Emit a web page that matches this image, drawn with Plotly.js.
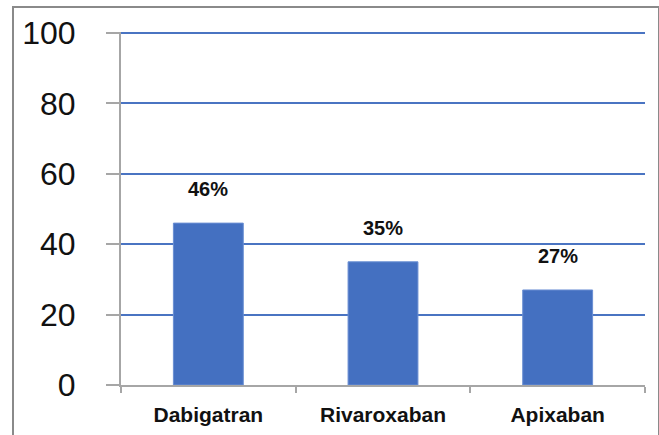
<!DOCTYPE html>
<html>
<head>
<meta charset="utf-8">
<script src="https://cdn.plot.ly/plotly-3.0.1.min.js"></script>
<style>
  html, body { margin: 0; padding: 0; background: #fff; }
  #wrap { position: relative; width: 659px; height: 435px; overflow: hidden; }
  #chart { position: absolute; left: 0; top: 0; width: 659px; height: 435px; }
  #frame { position: absolute; left: 12px; top: 6px; width: 644px; height: 440px;
           border: 2px solid #8a8a8a; pointer-events: none; }
</style>
</head>
<body>
<div id="wrap">
  <div id="chart"></div>
  <div id="frame"></div>
</div>
<script>
const categories = ["Dabigatran", "Rivaroxaban", "Apixaban"];
const values = [46, 35, 27];
const valueLabels = ["46%", "35%", "27%"];
const yTickValues = [0, 20, 40, 60, 80, 100];

const trace = {
  type: "bar",
  x: categories,
  y: values,
  marker: { color: "#4470c1", line: { color: "#6a8fd3", width: 1 } },
  hoverinfo: "none"
};

const annotations = categories.map((c, i) => ({
  x: c, y: values[i], xref: "x", yref: "y",
  text: "<b>" + valueLabels[i] + "</b>",
  showarrow: false, yanchor: "bottom", yshift: 21,
  font: { family: "Liberation Sans, Arial, sans-serif", size: 20, color: "#111" }
}));

const layout = {
  width: 659, height: 435,
  margin: { l: 121, r: 14, t: 32, b: 49.5 },
  paper_bgcolor: "#ffffff", plot_bgcolor: "#ffffff",
  showlegend: false,
  bargap: 0.6,
  xaxis: {
    type: "category",
    showline: true, linecolor: "#a6a6a6", linewidth: 2,
    ticks: "outside", tickson: "boundaries", ticklen: 6, tickcolor: "#a6a6a6", tickwidth: 2,
    showgrid: false, zeroline: false,
    tickfont: { family: "Liberation Sans, Arial, sans-serif", size: 21, color: "#111" },
    tickprefix: "<b>", ticksuffix: "</b>",
    ticklabelstandoff: 10
  },
  yaxis: {
    range: [0, 100.3],
    tickvals: yTickValues,
    ticktext: yTickValues.map(String),
    showline: true, linecolor: "#a6a6a6", linewidth: 2,
    ticks: "outside", ticklen: 13, tickcolor: "#a6a6a6", tickwidth: 2,
    showgrid: true, gridcolor: "#4a74c2", gridwidth: 2,
    zeroline: false,
    tickfont: { family: "Liberation Sans, Arial, sans-serif", size: 32, color: "#111" },
    ticklabelstandoff: 24
  },
  annotations: annotations
};

Plotly.newPlot("chart", [trace], layout, { staticPlot: true, displayModeBar: false });
</script>
</body>
</html>
